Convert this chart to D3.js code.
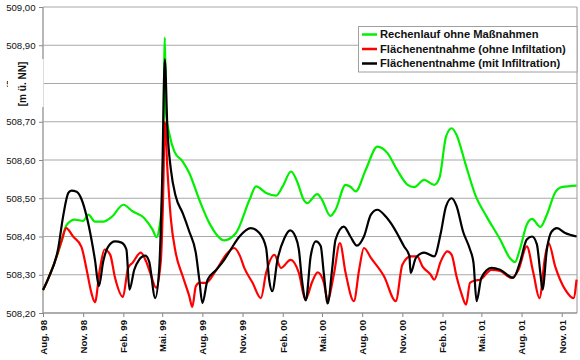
<!DOCTYPE html>
<html><head><meta charset="utf-8">
<script src="https://cdn.jsdelivr.net/npm/d3@7"></script>
<style>body{margin:0;background:#fff}svg{display:block}</style>
</head><body>
<svg id="c" width="580" height="360"></svg>
<script>
const tickDates = ["1998-08-01","1998-11-01","1999-02-01","1999-05-01","1999-08-01","1999-11-01","2000-02-01","2000-05-01","2000-08-01","2000-11-01","2001-02-01","2001-05-01","2001-08-01","2001-11-01"];
const tickLabels = ["Aug. 98","Nov. 98","Feb. 99","Mai. 99","Aug. 99","Nov. 99","Feb. 00","Mai. 00","Aug. 00","Nov. 00","Feb. 01","Mai. 01","Aug. 01","Nov. 01"];
const yTicks = [508.2,508.3,508.4,508.5,508.6,508.7,508.8,508.9,509.0];
const legendLabels = ["Rechenlauf ohne Maßnahmen","Flächenentnahme (ohne Infiltation)","Flächenentnahme (mit Infiltration)"];
const seriesColors = ["#00f000","#ff0000","#000000"];

const greenSeries = [
["1998-08-01",508.26],["1998-08-13",508.29],["1998-09-02",508.35],["1998-09-13",508.39],["1998-09-24",508.43],
["1998-10-13",508.444],["1998-11-01",508.441],["1998-11-13",508.457],["1998-11-28",508.439],["1998-12-17",508.439],
["1999-01-06",508.452],["1999-02-01",508.483],["1999-02-22",508.466],["1999-03-21",508.448],["1999-04-09",508.418],
["1999-04-18",508.398],["1999-04-24",508.42],["1999-04-30",508.48],["1999-05-03",508.60],["1999-05-07",508.92],
["1999-05-10",508.72],["1999-05-17",508.67],["1999-05-29",508.622],["1999-06-17",508.596],["1999-07-02",508.566],
["1999-07-25",508.496],["1999-08-17",508.435],["1999-09-20",508.39],["1999-10-17",508.409],["1999-11-17",508.496],
["1999-12-02",508.531],["1999-12-25",508.514],["2000-01-17",508.507],["2000-02-01",508.531],["2000-02-20",508.57],
["2000-03-05",508.544],["2000-03-20",508.496],["2000-03-28",508.487],["2000-04-20",508.511],["2000-05-01",508.496],
["2000-05-20",508.454],["2000-06-01",508.47],["2000-06-24",508.535],["2000-07-05",508.53],["2000-07-17",508.518],
["2000-08-09",508.574],["2000-09-05",508.635],["2000-09-28",508.618],["2000-10-20",508.574],["2000-11-13",508.535],
["2000-11-28",508.529],["2000-12-21",508.548],["2001-01-13",508.535],["2001-01-25",508.553],["2001-02-09",508.661],
["2001-02-22",508.683],["2001-03-05",508.666],["2001-03-25",508.592],["2001-04-17",508.509],["2001-05-13",508.452],
["2001-06-13",508.392],["2001-07-05",508.344],["2001-07-17",508.333],["2001-07-28",508.366],["2001-08-13",508.431],
["2001-08-25",508.446],["2001-09-13",508.425],["2001-09-28",508.457],["2001-10-17",508.515],["2001-11-01",508.529],
["2001-12-05",508.533]
];

const redSeries = [
["1998-08-01",508.26],["1998-08-13",508.29],["1998-09-02",508.35],["1998-09-13",508.39],["1998-09-23",508.422],
["1998-10-09",508.40],["1998-10-28",508.373],["1998-11-09",508.313],["1998-11-20",508.252],["1998-11-28",508.228],
["1998-12-09",508.313],["1998-12-20",508.366],["1999-01-02",508.352],["1999-01-13",508.292],["1999-01-31",508.242],
["1999-02-12",508.318],["1999-02-22",508.331],["1999-03-13",508.358],["1999-03-25",508.335],["1999-04-05",508.30],
["1999-04-17",508.266],["1999-04-28",508.339],["1999-05-03",508.50],["1999-05-07",508.70],["1999-05-13",508.574],
["1999-05-21",508.444],["1999-06-01",508.357],["1999-06-17",508.296],["1999-07-02",508.244],["1999-07-09",508.216],
["1999-07-17",508.27],["1999-07-25",508.279],["1999-08-09",508.279],["1999-09-02",508.313],["1999-09-24",508.352],
["1999-10-13",508.37],["1999-10-25",508.352],["1999-11-05",508.318],["1999-11-24",508.279],["1999-12-13",508.239],
["1999-12-25",508.305],["2000-01-13",508.352],["2000-01-28",508.318],["2000-02-19",508.339],["2000-03-09",508.305],
["2000-03-24",508.235],["2000-04-09",508.283],["2000-04-21",508.306],["2000-05-05",508.28],["2000-05-14",508.235],
["2000-05-28",508.30],["2000-06-11",508.383],["2000-06-24",508.305],["2000-07-13",508.231],["2000-07-25",508.313],
["2000-08-05",508.37],["2000-08-21",508.344],["2000-09-20",508.296],["2000-10-17",508.231],["2000-11-01",508.326],
["2000-11-20",508.348],["2000-12-05",508.348],["2000-12-17",508.322],["2001-01-05",508.30],["2001-01-13",508.287],
["2001-01-28",508.335],["2001-02-12",508.361],["2001-02-22",508.352],["2001-03-05",508.296],["2001-03-16",508.252],
["2001-03-27",508.222],["2001-04-05",508.279],["2001-04-17",508.285],["2001-04-28",508.287],["2001-05-24",508.313],
["2001-06-13",508.31],["2001-07-09",508.292],["2001-07-25",508.313],["2001-08-13",508.374],["2001-08-28",508.305],
["2001-09-11",508.239],["2001-09-24",508.348],["2001-10-02",508.383],["2001-10-17",508.322],["2001-11-09",508.261],
["2001-11-28",508.239],["2001-12-05",508.287]
];

const blackSeries = [
["1998-08-01",508.26],["1998-08-13",508.29],["1998-09-05",508.37],["1998-09-16",508.452],["1998-09-28",508.514],
["1998-10-05",508.52],["1998-10-17",508.517],["1998-10-28",508.498],["1998-11-09",508.452],["1998-11-20",508.392],
["1998-11-28",508.339],["1998-12-07",508.27],["1998-12-17",508.335],["1998-12-28",508.373],["1999-01-13",508.387],
["1999-01-28",508.384],["1999-02-08",508.366],["1999-02-15",508.261],["1999-02-26",508.313],["1999-03-09",508.339],
["1999-03-23",508.35],["1999-04-01",508.335],["1999-04-15",508.239],["1999-04-24",508.313],["1999-05-01",508.55],
["1999-05-07",508.863],["1999-05-13",508.679],["1999-05-21",508.574],["1999-06-01",508.505],["1999-06-17",508.461],
["1999-07-02",508.413],["1999-07-17",508.357],["1999-07-25",508.287],["1999-08-01",508.226],["1999-08-13",508.287],
["1999-09-02",508.313],["1999-09-20",508.339],["1999-10-05",508.366],["1999-10-25",508.40],["1999-11-20",508.422],
["1999-12-09",508.41],["1999-12-25",508.37],["2000-01-01",508.287],["2000-01-08",508.257],["2000-01-20",508.339],
["2000-02-05",508.396],["2000-02-18",508.416],["2000-03-01",508.40],["2000-03-09",508.366],["2000-03-16",508.287],
["2000-03-25",508.233],["2000-04-05",508.348],["2000-04-17",508.387],["2000-04-28",508.375],["2000-05-05",508.305],
["2000-05-14",508.225],["2000-05-24",508.313],["2000-06-01",508.392],["2000-06-20",508.426],["2000-07-05",508.40],
["2000-07-20",508.376],["2000-08-05",508.40],["2000-08-21",508.457],["2000-09-05",508.47],["2000-09-24",508.452],
["2000-10-13",508.422],["2000-11-05",508.374],["2000-11-17",508.35],["2000-11-20",508.305],["2000-12-02",508.344],
["2000-12-21",508.358],["2001-01-13",508.348],["2001-01-28",508.409],["2001-02-09",508.479],["2001-02-22",508.50],
["2001-03-05",508.48],["2001-03-20",508.413],["2001-04-05",508.366],["2001-04-13",508.331],["2001-04-20",508.231],
["2001-05-01",508.292],["2001-05-24",508.318],["2001-06-13",508.313],["2001-07-13",508.292],["2001-07-28",508.331],
["2001-08-13",508.392],["2001-08-25",508.40],["2001-09-05",508.38],["2001-09-13",508.305],["2001-09-18",508.261],
["2001-09-28",508.366],["2001-10-09",508.413],["2001-10-21",508.422],["2001-11-09",508.409],["2001-12-05",508.40]
];

const parse = d3.utcParse("%Y-%m-%d");
const svg = d3.select("#c");
const L = 43, R = 577, T = 7, B = 313;
const x = d3.scaleUtc().domain([parse("1998-08-01"), parse("2001-12-06")]).range([L, R]);
const y = d3.scaleLinear().domain([508.2, 509.0]).range([B, T]);
const fmt = v => v.toFixed(2).replace(".", ",");

svg.append("rect").attr("width",580).attr("height",360).attr("fill","#fff");

// y axis with gridlines
const yAxis = d3.axisLeft(y).tickValues(yTicks).tickSize(4).tickFormat(fmt);
const gy = svg.append("g").attr("transform",`translate(${L},0)`).call(yAxis);
gy.select(".domain").attr("stroke","#888").attr("stroke-width",1.2).attr("d",`M0,${T}V${B}`);
gy.selectAll(".tick line").attr("stroke","#888");
gy.selectAll(".tick text").attr("font-family","Liberation Sans, Arial, sans-serif").attr("font-size","9.6px").attr("fill","#111").attr("x",-7.5);

const grid = svg.append("g");
grid.selectAll("line").data(yTicks).join("line")
  .attr("x1",L).attr("x2",R).attr("y1",d=>y(d)).attr("y2",d=>y(d))
  .attr("stroke","#a8a8a8").attr("stroke-width",1.2);
svg.append("line").attr("x1",R).attr("x2",R).attr("y1",T).attr("y2",B).attr("stroke","#a8a8a8").attr("stroke-width",1.2);

// x axis
const xAxis = d3.axisBottom(x).tickValues(tickDates.map(parse)).tickSize(4).tickFormat((d,i)=>tickLabels[i]);
const gx = svg.append("g").attr("transform",`translate(0,${B})`).call(xAxis);
gx.select(".domain").attr("stroke","#888").attr("stroke-width",1.2).attr("d",`M${L},0H${R}`);
gx.selectAll(".tick line").attr("stroke","#888");
gx.selectAll(".tick text")
  .attr("font-family","Liberation Sans, Arial, sans-serif").attr("font-size","9.6px").attr("font-weight","bold").attr("fill","#111")
  .attr("text-anchor","end").attr("transform","rotate(-90)").attr("x",-7).attr("y",0).attr("dy","0.35em");

// axis title with white box
svg.append("rect").attr("x",8).attr("y",59).attr("width",L-7.5).attr("height",48).attr("fill","#fff");
svg.append("text").attr("transform","translate(22,84) rotate(-90)")
  .attr("text-anchor","middle").attr("dy","0.35em")
  .attr("font-family","Liberation Sans, Arial, sans-serif").attr("font-size","10px").attr("font-weight","bold").attr("fill","#111")
  .text("[m ü. NN]");

// lines
const line = d3.line().x(d=>x(parse(d[0]))).y(d=>y(d[1])).curve(d3.curveMonotoneX);
const allSeries = [greenSeries, redSeries, blackSeries];
svg.append("g").selectAll("path").data(allSeries).join("path")
  .attr("d", line).attr("fill","none")
  .attr("stroke",(d,i)=>seriesColors[i]).attr("stroke-width",2.2).attr("stroke-linejoin","round");

// legend
const lg = svg.append("g");
lg.append("rect").attr("x",358.5).attr("y",26.5).attr("width",R-358.5).attr("height",45.5)
  .attr("fill","#fff").attr("stroke","#a0a0a0").attr("stroke-width",1);
const rowsY = [34.5, 49, 63.5];
legendLabels.forEach((t,i)=>{
  lg.append("line").attr("x1",362).attr("x2",377).attr("y1",rowsY[i]).attr("y2",rowsY[i])
    .attr("stroke",seriesColors[i]).attr("stroke-width",2.5);
  lg.append("text").attr("x",380).attr("y",rowsY[i]).attr("dy","0.35em")
    .attr("font-family","Liberation Sans, Arial, sans-serif").attr("font-size","11.2px").attr("font-weight","bold").attr("fill","#111")
    .text(t);
});
</script>
</body></html>
